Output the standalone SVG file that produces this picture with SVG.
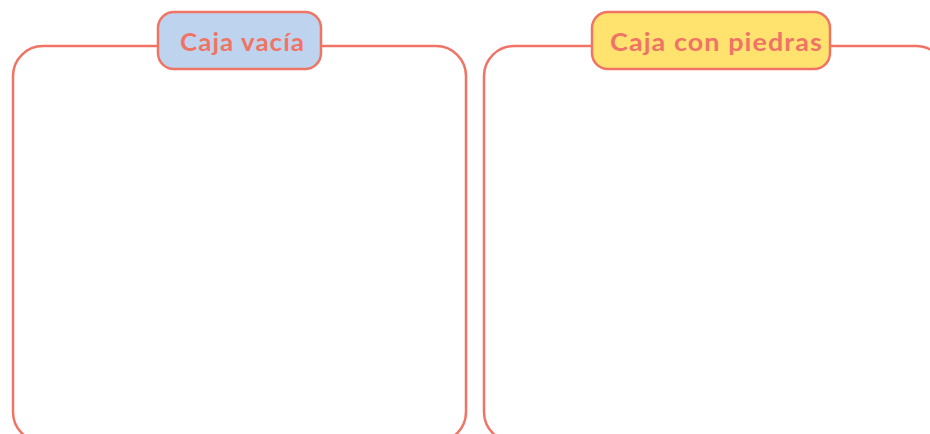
<svg xmlns="http://www.w3.org/2000/svg" width="930" height="434" viewBox="0 0 930 434">
<style>
.frame{fill:none;stroke:#F07466;stroke-width:2.5}
.tag{stroke:#F07466;stroke-width:2.5}
.lbl{font-family:"Lato","Liberation Sans",sans-serif;font-weight:bold;font-size:25px;fill:#F07466;letter-spacing:1px}
</style>
<rect width="930" height="434" fill="#FFFFFF"/>
<g id="box-vacia">
<rect class="frame" x="13" y="46" width="453" height="396" rx="30" ry="30"/>
<rect class="tag" x="158" y="12" width="163" height="57" rx="16" ry="16" fill="#BED4EE"/>
<text class="lbl" x="180" y="51" textLength="125" lengthAdjust="spacingAndGlyphs">Caja vacía</text>
</g>
<g id="box-piedras">
<rect class="frame" x="484" y="46" width="462" height="396" rx="30" ry="30"/>
<rect class="tag" x="592" y="12" width="238" height="57" rx="16" ry="16" fill="#FFE36E"/>
<text class="lbl" x="610" y="51" textLength="213" lengthAdjust="spacingAndGlyphs">Caja con piedras</text>
</g>
<g id="connectors"/>
</svg>
